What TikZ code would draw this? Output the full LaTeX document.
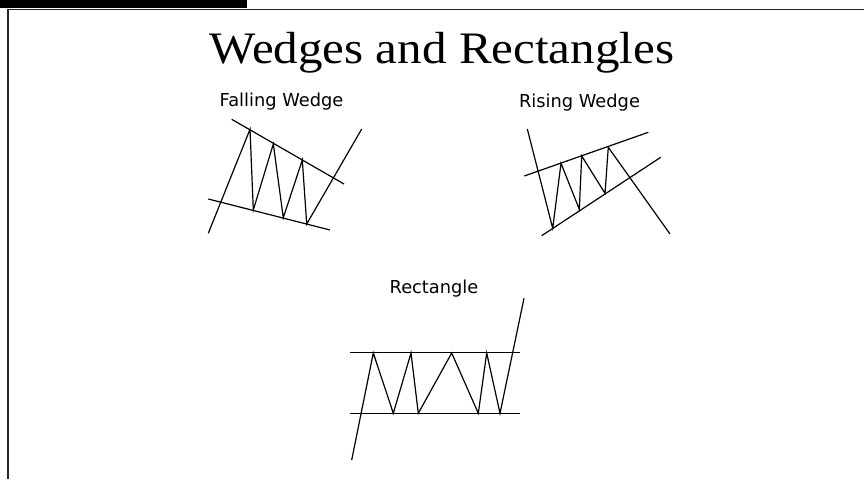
\documentclass[tikz,border=0pt]{standalone}
\usepackage{fontspec}
\setmainfont{Liberation Serif}
\newfontfamily\labelfont{DejaVu Sans}
\begin{document}
\begin{tikzpicture}[x=1pt,y=-1pt,
  chartline/.style={line width=1.2pt,line join=miter,black},
  framerule/.style={line width=1.5pt,black!85},
  patlabel/.style={font=\labelfont\fontsize{17.8}{20}\selectfont,inner sep=0pt,anchor=base},
  titlefont/.style={font=\fontsize{45}{50}\selectfont,inner sep=0pt,anchor=base}]
\useasboundingbox (0,0) rectangle (864,479);
% header bar and frame
\fill[black] (0,0) rectangle (247,7.5);
\coordinate (fTL) at (8,9.5);
\coordinate (fTR) at (864,9.5);
\coordinate (fBL) at (8,479);
\draw[framerule] (fTR) -- (fTL) -- (fBL);
% title
\node[titlefont] (title) at (442,63.5) {\scalebox{1.09}[1]{Wedges and Rectangles}};
% labels
\node[patlabel] (lfall) at (281.5,106) {Falling Wedge};
\node[patlabel] (lrise) at (579.5,107) {Rising Wedge};
\node[patlabel] (lrect) at (434,293) {Rectangle};
% Falling wedge
\coordinate (fa1) at (231.7,119.3); \coordinate (fa2) at (344,184);
\coordinate (fb1) at (208.3,199); \coordinate (fb2) at (330,230);
\coordinate (fz0) at (208.3,233.3);
\coordinate (fz1) at (250,129.3);
\coordinate (fz2) at (253.3,210);
\coordinate (fz3) at (273.3,144);
\coordinate (fz4) at (283.3,217.7);
\coordinate (fz5) at (302.3,160);
\coordinate (fz6) at (306.7,224);
\coordinate (fz7) at (361.7,129);
\draw[chartline] (fa1) -- (fa2);
\draw[chartline] (fb1) -- (fb2);
\draw[chartline] (fz0) -- (fz1) -- (fz2) -- (fz3) -- (fz4) -- (fz5) -- (fz6) -- (fz7);
% Rising wedge
\coordinate (ra1) at (524.3,176); \coordinate (ra2) at (648.3,132.3);
\coordinate (rb1) at (541.7,235.7); \coordinate (rb2) at (660.7,157.3);
\coordinate (rz0) at (527.3,129);
\coordinate (rz1) at (552.7,228.3);
\coordinate (rz2) at (561,163.3);
\coordinate (rz3) at (579.3,209.3);
\coordinate (rz4) at (581.7,156);
\coordinate (rz5) at (605,193.3);
\coordinate (rz6) at (608.3,147.3);
\coordinate (rz7) at (670,234);
\draw[chartline] (ra1) -- (ra2);
\draw[chartline] (rb1) -- (rb2);
\draw[chartline] (rz0) -- (rz1) -- (rz2) -- (rz3) -- (rz4) -- (rz5) -- (rz6) -- (rz7);
% Rectangle
\coordinate (qa1) at (350,352.7); \coordinate (qa2) at (520,352.7);
\coordinate (qb1) at (350,413.3); \coordinate (qb2) at (520,413.3);
\coordinate (qz0) at (351.7,460);
\coordinate (qz1) at (373.3,353);
\coordinate (qz2) at (393.3,413.3);
\coordinate (qz3) at (411,353);
\coordinate (qz4) at (418.3,413.3);
\coordinate (qz5) at (451.7,353);
\coordinate (qz6) at (478.3,413.3);
\coordinate (qz7) at (486.7,353);
\coordinate (qz8) at (500,413.3);
\coordinate (qz9) at (524,298.3);
\draw[chartline] (qa1) -- (qa2);
\draw[chartline] (qb1) -- (qb2);
\draw[chartline] (qz0) -- (qz1) -- (qz2) -- (qz3) -- (qz4) -- (qz5) -- (qz6) -- (qz7) -- (qz8) -- (qz9);
\end{tikzpicture}
\end{document}
